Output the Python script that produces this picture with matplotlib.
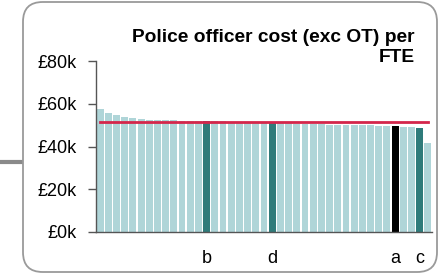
import matplotlib
matplotlib.use("Agg")
import matplotlib.pyplot as plt
from matplotlib.patches import FancyBboxPatch
from matplotlib.lines import Line2D

plt.rcParams['font.family'] = ['Liberation Sans', 'DejaVu Sans']

# Data (in £k)
values = [57.6, 55.7, 54.8, 53.8, 53.2, 52.8, 52.6, 52.4, 52.4, 52.4,
          52.0, 52.0, 52.0, 52.0, 51.8, 51.7, 51.6, 51.5, 51.4, 51.3,
          51.2, 51.0, 50.9, 50.8, 50.7, 50.6, 50.5, 50.4, 50.2, 50.1,
          50.1, 50.0, 50.0, 49.9, 49.7, 49.7, 49.6, 49.0, 49.0, 48.8,
          41.8]
highlight = {13: 'b', 21: 'd', 36: 'a', 39: 'c'}
black_idx = [36]
average = 51.3
yticks = [0, 20, 40, 60, 80]
ytick_labels = ['£0k', '£20k', '£40k', '£60k', '£80k']
title = 'Police officer cost (exc OT) per\nFTE'

W, H = 438, 277
fig = plt.figure(figsize=(W / 100, H / 100), dpi=100)

# rounded frame
frame = FancyBboxPatch((23 / W, 5 / H), (437 - 23) / W, (275 - 5) / H,
                       boxstyle="round,pad=0,rounding_size=0.045",
                       transform=fig.transFigure, facecolor='white',
                       edgecolor='#9a9a9a', linewidth=1.3, mutation_aspect=W / H,
                       zorder=0)
fig.patches.append(frame)
fig.lines.append(Line2D([0, 23 / W], [1 - 162 / H, 1 - 162 / H],
                        transform=fig.transFigure, color='#8a8a8a', linewidth=3,
                        zorder=0))

ax = fig.add_axes([96 / W, 1 - 232 / H, 336 / W, 171 / H])
ax.set_zorder(2)
ax.set_facecolor('none')

colors = []
for i in range(len(values)):
    if i in black_idx:
        colors.append('#000000')
    elif i in highlight:
        colors.append('#2f7b7a')
    else:
        colors.append('#afd5d8')
x = list(range(len(values)))
ax.bar(x, values, width=0.84, color=colors, linewidth=0, zorder=2)
ax.plot([0, len(values) - 1], [average, average], color='#d4264b', linewidth=2, zorder=3)

ax.set_xlim(-0.5, len(values) - 0.5)
ax.set_ylim(0, 80)
ax.set_yticks(yticks)
ax.set_yticklabels(ytick_labels)
ax.set_xticks(list(highlight.keys()))
ax.set_xticklabels(list(highlight.values()))
ax.tick_params(axis='y', length=6, width=1, color='#555555', labelsize=13, pad=8)
ax.tick_params(axis='x', length=0, labelsize=13, pad=13)
for s in ['top', 'right']:
    ax.spines[s].set_visible(False)
for s in ['left', 'bottom']:
    ax.spines[s].set_color('#555555')
    ax.spines[s].set_linewidth(1)

fig.text(415 / W, 1 - 29 / H, title, ha='right', va='top', fontsize=13.8,
         fontweight='bold', linespacing=1.2, zorder=3)

fig.savefig('out.png', dpi=100)
